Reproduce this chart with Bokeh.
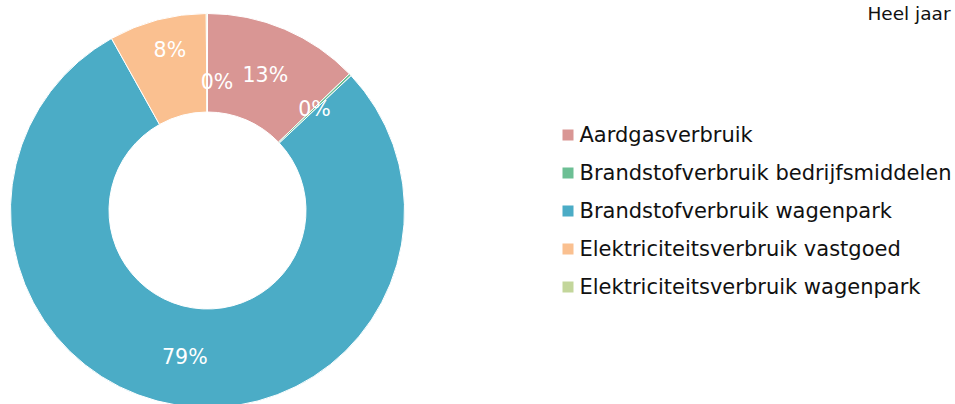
import math
from bokeh.plotting import figure
from bokeh.models import ColumnDataSource, Range1d
from bokeh.core.properties import value
from bokeh.embed import file_html
from bokeh.resources import INLINE

# ---- data ----
categories = [
    "Aardgasverbruik",
    "Brandstofverbruik bedrijfsmiddelen",
    "Brandstofverbruik wagenpark",
    "Elektriciteitsverbruik vastgoed",
    "Elektriciteitsverbruik wagenpark",
]
shares = [12.8, 0.2, 78.9, 8.0, 0.1]
title_text = "Heel jaar"

# ---- styles ----
colors = ["#D99694", "#6CBF94", "#4BACC6", "#FAC090", "#C3D69B"]
label_dx = [0, 0, 0, 0, 10]
label_dy = [0, 0, 0, -18, 19]
FONT = "DejaVu Sans"

W, H = 955, 404
CX, CY = 207, 194
R_OUT, R_IN = 197, 98.5
R_LAB = (R_OUT + R_IN) / 2

total = sum(shares)
starts, ends, lx, ly, labels = [], [], [], [], []
cum = 0.0
for v in shares:
    a0 = math.pi / 2 - 2 * math.pi * cum / total
    a1 = math.pi / 2 - 2 * math.pi * (cum + v) / total
    starts.append(a1)
    ends.append(a0)
    mid = (a0 + a1) / 2
    lx.append(CX + R_LAB * math.cos(mid))
    ly.append(CY + R_LAB * math.sin(mid))
    labels.append(f"{round(100 * v / total)}%")
    cum += v

src = ColumnDataSource(dict(cat=categories, start=starts, end=ends, color=colors,
                            lx=lx, ly=ly, label=labels, dx=label_dx, dy=label_dy))

p = figure(width=W, height=H, x_range=Range1d(0, W), y_range=Range1d(0, H),
           output_backend="svg", toolbar_location=None,
           x_axis_type=None, y_axis_type=None, min_border=0)
p.grid.visible = False
p.outline_line_color = None

p.annular_wedge(x=CX, y=CY, inner_radius=R_IN, outer_radius=R_OUT,
                start_angle="start", end_angle="end", fill_color="color",
                line_color="white", line_width=1, source=src)

p.text(x="lx", y="ly", text="label", x_offset="dx", y_offset="dy", source=src,
       text_color="white", text_font=value(FONT), text_font_size="20.5px",
       text_align="center", text_baseline="middle")

# legend
LEG_X, LEG_Y0, LEG_DY = 567.5, 269.5, 38
leg_x = [LEG_X] * len(categories)
leg_y = [LEG_Y0 - LEG_DY * i for i in range(len(categories))]
lsrc = ColumnDataSource(dict(x=leg_x, y=leg_y, tx=[LEG_X + 11.5] * len(categories),
                             cat=categories, color=colors))
p.scatter(x="x", y="y", marker="square", size=11, fill_color="color",
          line_color=None, source=lsrc)
p.text(x="tx", y="y", text="cat", source=lsrc, text_color="#111111",
       text_font=value(FONT), text_font_size="21px",
       text_align="left", text_baseline="middle")

p.text(x=[950], y=[H - 2], text=[title_text], text_color="#111111",
       text_font=value(FONT), text_font_size="18.5px",
       text_align="right", text_baseline="top")

open("out.html", "w").write(file_html(p, INLINE))
